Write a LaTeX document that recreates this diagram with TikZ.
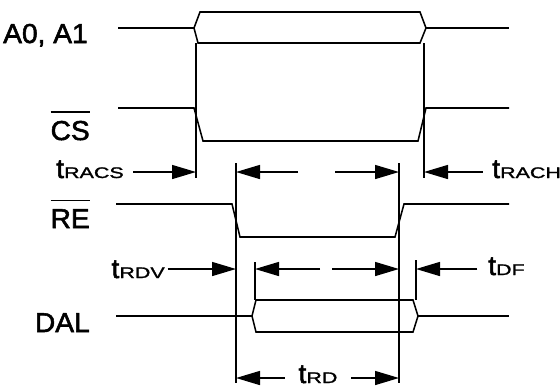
\documentclass[tikz,border=0pt]{standalone}
\usepackage{fontspec}
\setmainfont{Liberation Sans}[FakeStretch=1.03,FakeBold=2]
\newfontfamily\subfont{Liberation Sans}[FakeStretch=1.4,FakeBold=1.5]
\usetikzlibrary{arrows.meta}

\newcommand{\ovl}[1]{\vbox{\hrule height 1.2pt\kern 6pt\hbox{#1}}}
\newcommand{\tsub}[1]{t{\subfont\fontsize{11.5}{13}\selectfont #1}}

\tikzset{
  sig/.style={line width=1.15pt, line join=miter},
  refline/.style={line width=0.9pt},
  dim/.style={line width=1.1pt, -{Triangle[length=18pt,width=10.5pt]}},
  lbl/.style={font=\fontsize{20.5}{24}\selectfont, inner sep=0pt},
}

\begin{document}
\begin{tikzpicture}[x=0.75pt,y=-0.75pt]
\useasboundingbox (0,0) rectangle (560,387);

% signal names
\node[lbl,anchor=base east] (a01) at (88,43) {A0, A1};
\node[lbl,anchor=base east] (cs) at (90,140) {\ovl{CS}};
\node[lbl,anchor=base east] (re) at (90,228) {\ovl{RE}};
\node[lbl,anchor=base east] (dal) at (90,332) {DAL};

% timing names
\node[lbl,anchor=base east] (tracs) at (124,178) {\tsub{RACS}};
\node[lbl,anchor=base west] (trach) at (492,178) {\tsub{RACH}};
\node[lbl,anchor=base east] (trdv) at (165,278) {\tsub{RDV}};
\node[lbl,anchor=base west] (tdf) at (488,275) {\tsub{DF}};
\node[lbl,anchor=base] (trd) at (318,383) {\tsub{RD}};

% waveforms
\draw[sig] (118,28) -- (194,28) -- (200,12) -- (420,12) -- (426,28) -- (420,43) -- (198,43) -- (194,28);
\draw[sig] (426,28) -- (509,28);
\draw[sig] (118,108) -- (194,108) -- (203,141) -- (418,141) -- (426,108) -- (509,108);
\draw[sig] (116,204) -- (232,204) -- (240,237) -- (395,237) -- (404,204) -- (509,204);
\draw[sig] (116,316) -- (252,316) -- (256,300) -- (413,300) -- (418,316) -- (413,332) -- (256,332) -- (252,316);
\draw[sig] (418,316) -- (509,316);

% reference lines
\coordinate (csF) at (196,172);
\coordinate (csR) at (424,172);
\coordinate (reF) at (236,172);
\coordinate (reR) at (399,172);
\coordinate (reF2) at (236,378);
\coordinate (reR2) at (399,378);
\coordinate (reR3) at (399,269);
\coordinate (reF3) at (236,269);
\coordinate (dalV) at (255,269);
\coordinate (dalZ) at (416,269);
\draw[refline] (196,43) -- (196,178);
\draw[refline] (424,43) -- (424,178);
\draw[refline] (236,163) -- (236,383);
\draw[refline] (399,163) -- (399,383);
\draw[refline] (255,262) -- (255,300);
\draw[refline] (416,260) -- (416,300);

% dimension arrows
\draw[dim,shorten <=7pt] (tracs.east |- csF) -- (csF);
\draw[dim,shorten <=7pt] (trach.west |- csR) -- (csR);
\draw[dim] (298,172) -- (reF);
\draw[dim] (335,172) -- (reR);
\draw[dim,shorten <=2pt] (trdv.east |- reF3) -- (reF3);
\draw[dim] (320,269) -- (dalV);
\draw[dim] (332,269) -- (reR3);
\draw[dim,shorten <=8pt] (tdf.west |- dalZ) -- (dalZ);
\draw[dim,shorten <=10pt] (trd.west |- reF2) -- (reF2);
\draw[dim,shorten <=10pt] (trd.east |- reR2) -- (reR2);

\end{tikzpicture}
\end{document}
